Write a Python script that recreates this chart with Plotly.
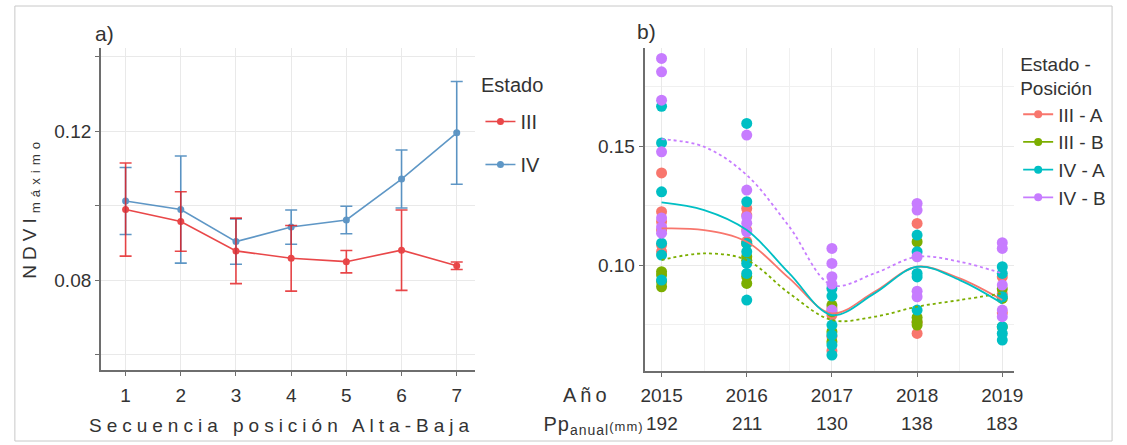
import plotly.graph_objects as go

# ---------------- Panel a data ----------------
posicion = [1, 2, 3, 4, 5, 6, 7]
ndvi_III = [0.0990, 0.0958, 0.0879, 0.0859, 0.0850, 0.0881, 0.0839]
err_III = [0.0125, 0.0080, 0.0088, 0.0088, 0.0030, 0.0108, 0.0010]
ndvi_IV = [0.1013, 0.0990, 0.0904, 0.0943, 0.0962, 0.1072, 0.1196]
err_IV = [0.0090, 0.0144, 0.0061, 0.0046, 0.0037, 0.0078, 0.0138]

# ---------------- Panel b data ----------------
years = [2015, 2016, 2017, 2018, 2019]
pp_anual = [192, 211, 130, 138, 183]

pts_III_A = [
    [0.1387, 0.1224, 0.1182, 0.1147, 0.1084, 0.1056],
    [0.1238, 0.1210, 0.1147, 0.1100],
    [0.0820, 0.0790, 0.0700, 0.0640],
    [0.1175, 0.0760, 0.0713],
    [0.0950, 0.0880, 0.0800],
]
pts_III_B = [
    [0.0972, 0.0958, 0.0930, 0.0909],
    [0.1091, 0.1035, 0.1020, 0.0952, 0.0923],
    [0.0832, 0.0804, 0.0720, 0.0678],
    [0.1098, 0.0780, 0.0762, 0.0748],
    [0.0900, 0.0860, 0.0740],
]
pts_IV_A = [
    [0.1667, 0.1513, 0.1308, 0.1092, 0.1042, 0.0937],
    [0.1595, 0.1266, 0.1091, 0.1056, 0.1007, 0.0965, 0.0853],
    [0.0902, 0.0870, 0.0748, 0.0706, 0.0664, 0.0622],
    [0.1126, 0.1056, 0.0965, 0.0950, 0.0811],
    [0.0993, 0.0965, 0.0867, 0.0741, 0.0713, 0.0685],
]
pts_IV_B = [
    [0.1868, 0.1812, 0.1693, 0.1476, 0.1198, 0.1160, 0.1134],
    [0.1546, 0.1315, 0.1203, 0.1176, 0.1140],
    [0.1070, 0.1007, 0.0951, 0.0920, 0.0811],
    [0.1259, 0.1231, 0.1035, 0.0890, 0.0867],
    [0.1094, 0.1070, 0.0916, 0.0811, 0.0783],
]

curve_x = [2015, 2015.5, 2016, 2016.5, 2017, 2017.5, 2018, 2018.5, 2019]
curve_III_A = [0.1154, 0.1147, 0.1098, 0.0944, 0.0797, 0.0888, 0.0993, 0.0944, 0.0853]
curve_III_B = [0.1021, 0.1049, 0.1021, 0.0881, 0.0769, 0.0783, 0.0825, 0.0853, 0.0881]
curve_IV_A = [0.1263, 0.1231, 0.1147, 0.0965, 0.0790, 0.0881, 0.0993, 0.0937, 0.0839]
curve_IV_B = [0.1529, 0.1497, 0.1378, 0.1161, 0.0916, 0.0965, 0.1035, 0.1014, 0.0965]

groups = ["III - A", "III - B", "IV - A", "IV - B"]
group_colors = ["#F8766D", "#7CAE00", "#00BFC4", "#C77CFF"]
group_dash = ["solid", "dot", "solid", "dot"]
group_pts = [pts_III_A, pts_III_B, pts_IV_A, pts_IV_B]
group_curves = [curve_III_A, curve_III_B, curve_IV_A, curve_IV_B]

# axis ticks / gridlines
a_major_ticks = [0.08, 0.12]
a_minor_ticks = [0.06, 0.10, 0.14]
a_grid_extra = [0.07, 0.09, 0.11, 0.13]
b_y_ticks = [0.10, 0.15]
b_y_minor = [0.075, 0.125, 0.175]

W, H = 1127, 445
FONT = "Liberation Sans, Arial, sans-serif"
TXT = "#333333"
RED = "#E41A1C"
BLUE = "#377EB8"

fig = go.Figure()

# ---- Panel a traces ----
for name, vals, errs, col, rank in [("IV", ndvi_IV, err_IV, BLUE, 2),
                                    ("III", ndvi_III, err_III, RED, 1)]:
    fig.add_trace(go.Scatter(
        x=posicion, y=vals, mode="lines+markers", name=name,
        legend="legend", legendgroup=name, legendrank=rank,
        line=dict(color=col, width=1.6), opacity=0.8,
        marker=dict(color=col, size=7),
        error_y=dict(type="data", array=errs, visible=True, color=col,
                     thickness=1.6, width=6),
        xaxis="x", yaxis="y"))

# ---- Panel b traces ----
for g, col, pts in zip(groups, group_colors, group_pts):
    xs = [yr for yr, vals in zip(years, pts) for _ in vals]
    ys = [v for vals in pts for v in vals]
    fig.add_trace(go.Scatter(
        x=xs, y=ys, mode="markers", showlegend=False,
        marker=dict(color=col, size=11), xaxis="x2", yaxis="y2"))
for g, col, dash, cy in zip(groups, group_colors, group_dash, group_curves):
    fig.add_trace(go.Scatter(
        x=curve_x, y=cy, mode="lines", showlegend=False,
        line=dict(color=col, width=1.8, dash=dash, shape="spline", smoothing=1),
        xaxis="x2", yaxis="y2"))
for g, col in zip(groups, group_colors):
    fig.add_trace(go.Scatter(
        x=[None], y=[None], mode="lines+markers", name=g,
        legend="legend2", legendgroup=g,
        line=dict(color=col, width=1.8), marker=dict(color=col, size=8),
        xaxis="x2", yaxis="y2"))

GRID = "#E9E9E9"
MINOR = "#F0F0F0"
AXL = "#6E6E6E"

common_axis = dict(showline=True, linecolor=AXL, linewidth=1.6, ticks="outside",
                   ticklen=4, tickcolor=AXL, tickwidth=1.2, zeroline=False,
                   gridcolor=GRID, gridwidth=1.3,
                   tickfont=dict(family=FONT, size=19, color=TXT))

a_y_dom = [1 - 370 / H, 1 - 48 / H]
a_y_rng = [0.0559, 0.1424]

fig.update_layout(
    width=W, height=H, margin=dict(l=0, r=0, t=0, b=0),
    paper_bgcolor="white", plot_bgcolor="white",
    font=dict(family=FONT, color=TXT),
    xaxis=dict(domain=[98 / W, 477 / W], range=[0.552, 7.34],
               tickmode="array", tickvals=posicion,
               ticklabelstandoff=3, anchor="y", **common_axis),
    yaxis=dict(domain=a_y_dom, range=a_y_rng,
               tickmode="array", tickvals=a_major_ticks,
               ticktext=[f"{v:.2f}" for v in a_major_ticks],
               minor=dict(tickvals=a_minor_ticks, showgrid=True,
                          gridcolor=GRID, gridwidth=1.3, ticks="outside",
                          ticklen=4, tickcolor=AXL, tickwidth=1.2),
               anchor="x", **common_axis),
    yaxis3=dict(domain=a_y_dom, range=a_y_rng, overlaying="y", anchor="x",
                tickmode="array", tickvals=a_grid_extra, showticklabels=False,
                ticks="", showline=False, showgrid=True, gridcolor=GRID,
                gridwidth=1.3, zeroline=False),
    xaxis2=dict(domain=[648 / W, 1022 / W], range=[2014.8, 2019.14],
                tickmode="array", tickvals=years, ticktext=[str(y) for y in years],
                minor=dict(dtick=0.5, tick0=2014.5, showgrid=True,
                           gridcolor=MINOR, gridwidth=1.2, ticks=""),
                ticklabelstandoff=2, anchor="y2", **common_axis),
    yaxis2=dict(domain=[1 - 371 / H, 1 - 48 / H], range=[0.0555, 0.1912],
                tickmode="array", tickvals=b_y_ticks,
                ticktext=[f"{v:.2f}" for v in b_y_ticks],
                minor=dict(tickvals=b_y_minor, showgrid=True,
                           gridcolor=MINOR, gridwidth=1.2, ticks=""),
                anchor="x2", **common_axis),
    legend=dict(x=482 / W, y=1 - 102 / H, xanchor="left", yanchor="top",
                font=dict(family=FONT, size=20, color=TXT),
                traceorder="grouped", tracegroupgap=14, itemwidth=30,
                bgcolor="rgba(0,0,0,0)"),
    legend2=dict(x=1026 / W, y=1 - 46 / H, xanchor="left", yanchor="top",
                 title=dict(text="Estado -<br>Posición",
                            font=dict(family=FONT, size=19, color=TXT)),
                 font=dict(family=FONT, size=19, color=TXT),
                 traceorder="grouped", tracegroupgap=0, itemwidth=30,
                 bgcolor="rgba(0,0,0,0)"),
    showlegend=True,
)

annots = []
# 0: a)
annots.append(dict(text="a)", x=90 / W, y=1 - 33 / H, xanchor="left", yanchor="middle",
                   font=dict(size=21)))
# 1: b)
annots.append(dict(text="b)", x=638 / W, y=1 - 31 / H, xanchor="left", yanchor="middle",
                   font=dict(size=21)))
# 2: y title panel a
annots.append(dict(text="NDVI<sub>máximo</sub>", x=27 / W, y=1 - 208 / H,
                   xanchor="center", yanchor="middle", textangle=-90,
                   font=dict(size=19)))
# 3: x title panel a
annots.append(dict(text="Secuencia posición Alta-Baja", x=281 / W, y=1 - 425 / H,
                   xanchor="center", yanchor="middle", font=dict(size=19)))
# 4: Año
annots.append(dict(text="Año", x=590 / W, y=1 - 395 / H, xanchor="center",
                   yanchor="middle", font=dict(size=20)))
# 5: Pp anual
annots.append(dict(text="Pp<sub>anual</sub><span style='font-size:13px'>(mm)</span>",
                   x=643 / W, y=1 - 425 / H, xanchor="right", yanchor="middle",
                   font=dict(size=20)))
# 6: legend title panel a
annots.append(dict(text="Estado", x=481 / W, y=1 - 85 / H, xanchor="left",
                   yanchor="middle", font=dict(size=20)))
for a in annots:
    a.update(xref="paper", yref="paper", showarrow=False)
    a["font"].update(family=FONT, color=TXT)
# Pp values under the years (positioned on the panel b axis)
for yr, pp in zip(years, pp_anual):
    annots.append(dict(text=str(pp), x=yr, xref="x2", y=1 - 423 / H, yref="paper",
                       xanchor="center", yanchor="middle", showarrow=False,
                       font=dict(family=FONT, size=19, color=TXT)))
fig.update_layout(annotations=annots)

# outer frame
fig.add_shape(type="rect", xref="paper", yref="paper",
              x0=11 / W, x1=1121 / W, y0=1 - 441 / H, y1=1 - 6 / H,
              line=dict(color="#C8C8C8", width=1))

post = """
document.body.style.margin = '0';
document.body.style.overflow = 'hidden';
var gd = document.getElementById('{plot_id}');
var spacing = {'2': '5px', '3': '5px', '4': '4px', '5': '1px'};
function ls(){
  gd.querySelectorAll('.annotation').forEach(function(g){
    var i = g.getAttribute('data-index');
    if (spacing[i]) {
      g.querySelectorAll('text').forEach(function(t){ t.style.letterSpacing = spacing[i]; });
    }
  });
}
ls();
gd.on('plotly_afterplot', ls);
"""
fig.write_html("out.html", post_script=post, config={"displayModeBar": False})
